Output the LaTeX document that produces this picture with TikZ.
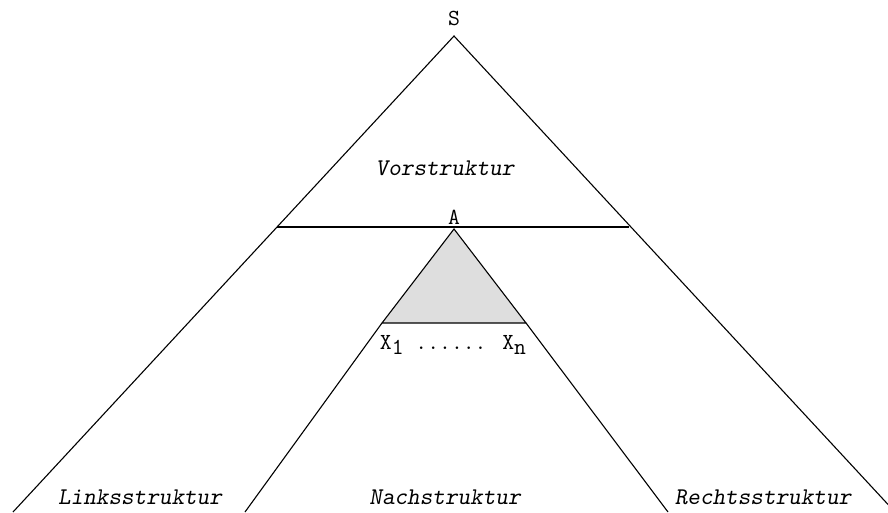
\documentclass[tikz,border=0pt]{standalone}
\usepackage{fontspec}
\usetikzlibrary{positioning}

\begin{document}
\begin{tikzpicture}[
    x=1pt, y=-1pt,
    lbl/.style={font=\fontsize{23}{26}\ttfamily, inner sep=0pt},
    struct/.style={font=\fontsize{24}{27}\ttfamily\slshape, inner sep=0pt},
    edge/.style={line width=1.1pt, black}
]
\useasboundingbox (0,0) rectangle (888,512);
\clip (0,0) rectangle (888,512);

% main tree
\coordinate (top) at (454,36);
\coordinate (bl) at (13,512);
\coordinate (br) at (895,512);
\coordinate (vl) at (277,227);
\coordinate (vr) at (629,227);
\node[lbl, above=10pt of top] (s) {S};

% inner triangle
\coordinate (a) at (454,229);
\coordinate (x1) at (382,323);
\coordinate (xn) at (526,323);
\coordinate (nl) at (245,512);
\coordinate (nr) at (668,512);
\fill[black!13] (a) -- (x1) -- (xn) -- cycle;
\node[lbl, above=4pt of a] (alab) {A};
\node[lbl] (xs) at (453,345) {X\raisebox{-0.45ex}{1} ...... X\raisebox{-0.45ex}{n}};

\draw[edge] (bl) -- (top) -- (br);
\draw[edge] (vl) -- (vr);
\draw[edge] (x1) -- (a) -- (xn) -- cycle;
\draw[edge] (x1) -- (nl);
\draw[edge] (xn) -- (nr);

% region labels
\node[struct] (vor) at (445,168) {Vorstruktur};
\node[struct] (links) at (140,497) {Linksstruktur};
\node[struct] (nach) at (445,497) {Nachstruktur};
\node[struct] (rechts) at (763,497) {Rechtsstruktur};
\end{tikzpicture}
\end{document}
